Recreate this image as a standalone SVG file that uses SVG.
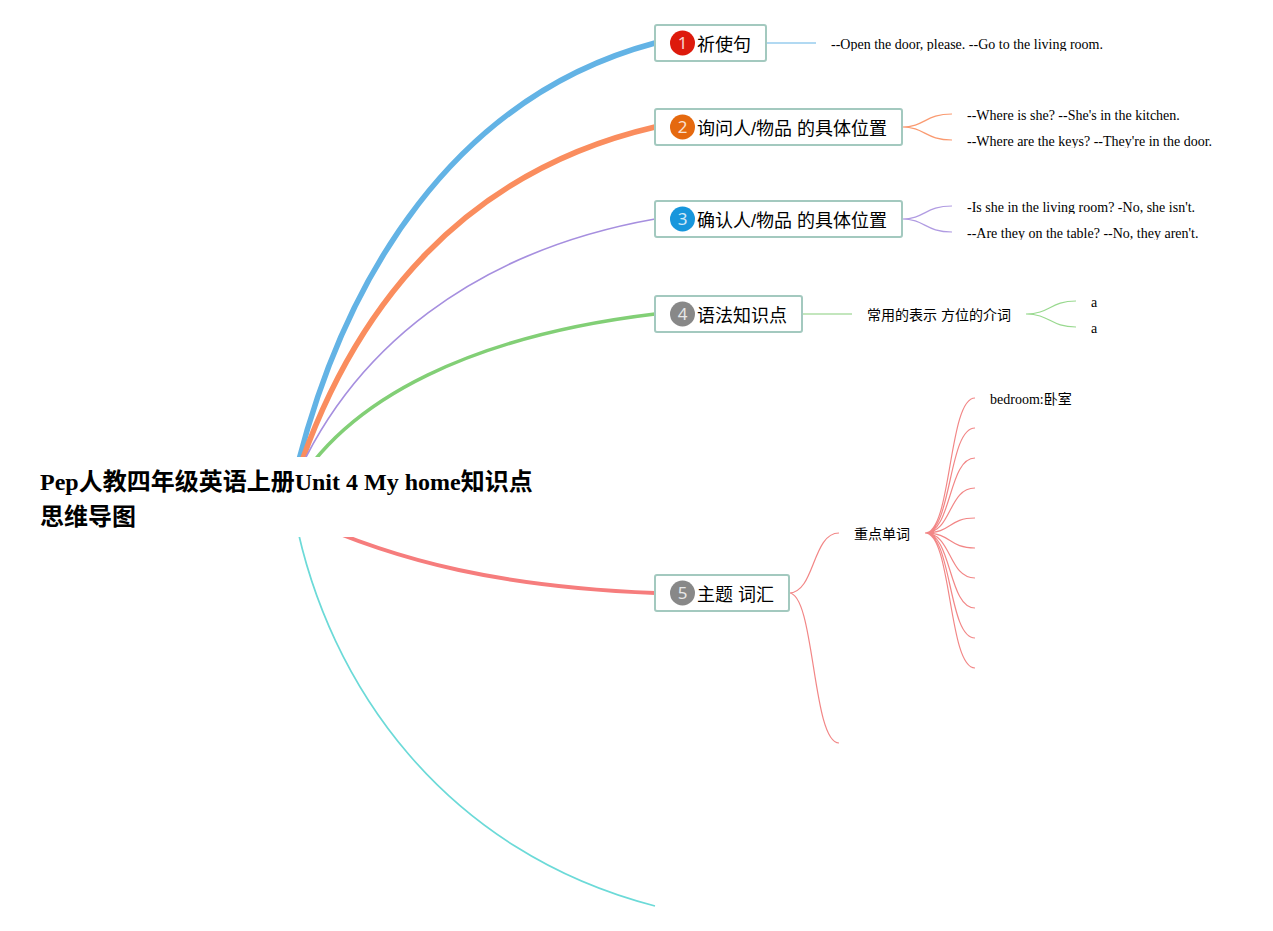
<svg xmlns="http://www.w3.org/2000/svg" width="1273" height="931" viewBox="0 0 1273 931">
<style>
.c{fill:none}
.n{fill:#fff;stroke:#a3c9bf;stroke-width:2}
.t{font-family:"Liberation Sans","Noto Sans CJK SC",sans-serif;font-size:18px;fill:#000}
.s{font-family:"Liberation Sans","Noto Sans CJK SC",sans-serif;font-size:14px;fill:#000}
.e{font-family:"Liberation Serif","Noto Sans CJK SC",serif;font-size:14px;fill:#000}
.d{font-family:"Noto Sans",sans-serif;font-size:17px;fill:#fff;text-anchor:middle;opacity:.8}
.ti{font-family:"Liberation Serif","Noto Sans CJK SC",serif;font-size:24px;font-weight:bold;fill:#000}
</style>
<defs>
<clipPath id="k1"><rect x="825" y="30" width="290" height="21"/></clipPath>
<clipPath id="k2"><rect x="960" y="100" width="260" height="22"/></clipPath>
<clipPath id="k3"><rect x="960" y="126" width="260" height="22"/></clipPath>
<clipPath id="k4"><rect x="960" y="192" width="260" height="22"/></clipPath>
<clipPath id="k5"><rect x="960" y="218" width="260" height="22"/></clipPath>
</defs>
<g id="connectors" class="c">
<path d="M290 497C340 270 460 95 655 43" stroke="#63b3e5" stroke-width="5.500"/>
<path d="M290 497C350 300 470 170 655 127" stroke="#fa8d5e" stroke-width="5.500"/>
<path d="M288 497C348 345 480 250 655 219" stroke="#a68fdf" stroke-width="1.700"/>
<path d="M290 497C345 395 480 335 655 314" stroke="#82cf76" stroke-width="3.500"/>
<path d="M300 517C400 563 505 587 655 593" stroke="#f67d7d" stroke-width="4"/>
<path d="M295 517C328 685 445 852 655 906" stroke="#6cdad8" stroke-width="1.700"/>
<g stroke-width="1.200">
<path d="M766 43H816" stroke="#b1d9f2" stroke-width="2"/>
<path d="M902 127C925 127 925 114 952 114M902 127C925 127 925 140 952 140" stroke="#fa9a70"/>
<path d="M902 219C925 219 925 206 952 206M902 219C925 219 925 232 952 232" stroke="#b09be2"/>
<path d="M802 314H852" stroke="#c3e6bd" stroke-width="2"/>
<path d="M1026 314C1050 314 1050 301 1076 301M1026 314C1050 314 1050 327 1076 327" stroke="#99d98f"/>
<path d="M789 593C815 593 812 533 839 533M789 593C815 593 812 743 839 743" stroke="#f28686"/>
<path d="M925 533C952 533 948 398 975 398M925 533C952 533 948 428 975 428M925 533C952 533 948 458 975 458M925 533C952 533 948 488 975 488M925 533C952 533 948 518 975 518M925 533C952 533 948 548 975 548M925 533C952 533 948 578 975 578M925 533C952 533 948 608 975 608M925 533C952 533 948 638 975 638M925 533C952 533 948 668 975 668" stroke="#f28686"/>
</g>
</g>
<g id="root"><rect x="25" y="457" width="520" height="80" fill="#fff"/>
<text class="ti" x="40" y="490">Pep人教四年级英语上册Unit 4 My home知识点</text>
<text class="ti" x="40" y="525">思维导图</text></g>
<g id="n1"><rect class="n" x="655" y="25" width="111" height="36" rx="2"/><circle cx="682.500" cy="43" r="12.500" fill="#dd1a0c"/><text class="d" x="682.500" y="49">1</text><text class="t" x="697" y="51">祈使句</text></g>
<g id="n2"><rect class="n" x="655" y="109" width="247" height="36" rx="2"/><circle cx="682.500" cy="127" r="12.500" fill="#e5690f"/><text class="d" x="682.500" y="133">2</text><text class="t" x="697" y="135">询问人/物品 的具体位置</text></g>
<g id="n3"><rect class="n" x="655" y="201" width="247" height="36" rx="2"/><circle cx="682.500" cy="219" r="12.500" fill="#1796dc"/><text class="d" x="682.500" y="225">3</text><text class="t" x="697" y="227">确认人/物品 的具体位置</text></g>
<g id="n4"><rect class="n" x="655" y="296" width="147" height="36" rx="2"/><circle cx="682.500" cy="314" r="12.500" fill="#888"/><text class="d" x="682.500" y="320">4</text><text class="t" x="697" y="322">语法知识点</text></g>
<g id="n5"><rect class="n" x="655" y="575" width="134" height="36" rx="2"/><circle cx="682.500" cy="593" r="12.500" fill="#888"/><text class="d" x="682.500" y="599">5</text><text class="t" x="697" y="601">主题 词汇</text></g>
<g id="l1" clip-path="url(#k1)"><text class="e" x="831" y="49">--Open the door, please. --Go to the living room.</text></g>
<g id="l2" clip-path="url(#k2)"><text class="e" x="967" y="120">--Where is she? --She's in the kitchen.</text></g>
<g id="l3" clip-path="url(#k3)"><text class="e" x="967" y="146">--Where are the keys? --They're in the door.</text></g>
<g id="l4" clip-path="url(#k4)"><text class="e" x="967" y="212">-Is she in the living room? -No, she isn't.</text></g>
<g id="l5" clip-path="url(#k5)"><text class="e" x="967" y="238">--Are they on the table? --No, they aren't.</text></g>
<g id="l6"><text class="s" x="867" y="320">常用的表示 方位的介词</text></g>
<g id="l7"><text class="e" x="1091" y="307">a</text></g>
<g id="l8"><text class="e" x="1091" y="333">a</text></g>
<g id="l9"><text class="e" x="990" y="404">bedroom:卧室</text></g>
<g id="l10"><text class="s" x="854" y="539">重点单词</text></g>
</svg>
